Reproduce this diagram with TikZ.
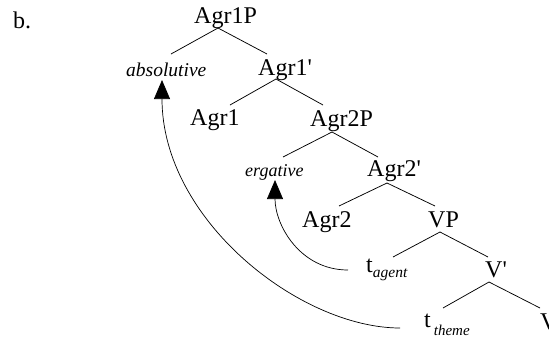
\documentclass[tikz,border=0pt]{standalone}
\usepackage{fontspec}
\setmainfont{Liberation Serif}[Ligatures=TeXOff]
\usetikzlibrary{arrows.meta,calc}
\begin{document}
\begin{tikzpicture}[x=1pt,y=-1pt,
  lab/.style={inner sep=0pt,anchor=base west,font=\fontsize{24}{24}\selectfont},
  labi/.style={inner sep=0pt,anchor=base west,font=\fontsize{#1}{#1}\selectfont\itshape},
  branch/.style={line width=0.75pt},
  mv/.style={line width=0.7pt,-{Triangle[length=19pt,width=16pt]}}]
\useasboundingbox (0,0) rectangle (549,341);
\node[lab] (b) at (13,28) {b.};
\node[lab] (A1P) at (194,23) {Agr1P};
\node[labi=19.5] (abs) at (126,76) {absolutive};
\node[lab] (A1b) at (258,75) {Agr1'};
\node[lab] (A1) at (190,125) {Agr1};
\node[lab] (A2P) at (310,126) {Agr2P};
\node[labi=18] (erg) at (245,176) {ergative};
\node[lab] (A2b) at (367,176) {Agr2'};
\node[lab] (A2) at (302,227) {Agr2};
\node[lab] (VP) at (428,227) {VP};
\node[lab] (tag) at (366,272) {t\raisebox{-5pt}{\fontsize{15.5}{15}\selectfont\itshape agent}};
\node[lab] (Vb) at (485,277) {V'};
\node[lab] (tth) at (424,327) {t\hspace{3pt}\raisebox{-8pt}{\fontsize{15}{15}\selectfont\itshape theme}};
\node[lab] (V) at (540,329) {V};
% branches
\draw[branch] ($(A1P.base west)+(24,5)$) -- ($(abs.base west)+(45,-22)$);
\draw[branch] ($(A1P.base west)+(24,5)$) -- ($(A1b.base west)+(9,-21)$);
\draw[branch] ($(A1b.base west)+(18,4)$) -- ($(A1.base west)+(40,-20)$);
\draw[branch] ($(A1b.base west)+(18,4)$) -- ($(A2P.base west)+(13,-21)$);
\draw[branch] ($(A2P.base west)+(22,6)$) -- ($(erg.base west)+(38,-19)$);
\draw[branch] ($(A2P.base west)+(22,6)$) -- ($(A2b.base west)+(11,-19)$);
\draw[branch] ($(A2b.base west)+(20,7)$) -- ($(A2.base west)+(37,-21)$);
\draw[branch] ($(A2b.base west)+(20,7)$) -- ($(VP.base west)+(7,-21)$);
\draw[branch] ($(VP.base west)+(12,5)$) -- ($(tag.base west)+(27,-15)$);
\draw[branch] ($(VP.base west)+(12,5)$) -- ($(Vb.base west)+(3,-20)$);
\draw[branch] ($(Vb.base west)+(4,5)$) -- ($(tth.base west)+(19,-19)$);
\draw[branch] ($(Vb.base west)+(4,5)$) -- ($(V.base west)+(0,-21)$);
% movement arrows
\draw[mv] ($(tag.base west)+(-18,-2)$) .. controls (300,270) and (275,225) .. ($(erg.base west)+(30,4)$);
\draw[mv] ($(tth.base west)+(-24,1)$) .. controls (300,328) and (162,220) .. ($(abs.base west)+(36,4)$);
\end{tikzpicture}
\end{document}
